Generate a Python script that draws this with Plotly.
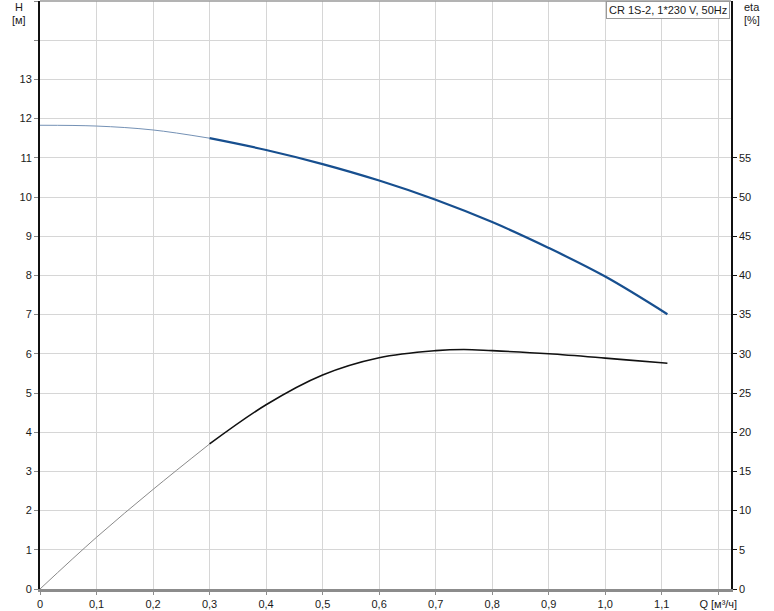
import plotly.graph_objects as go

# Data
q_h = [0.0, 0.1, 0.2, 0.3, 0.4, 0.5, 0.6, 0.7, 0.8, 0.9, 1.0, 1.11]
h_vals = [11.83, 11.81, 11.71, 11.50, 11.20, 10.84, 10.42, 9.93, 9.36, 8.70, 7.97, 7.01]

q_eta = [0.0, 0.1, 0.2, 0.3, 0.4, 0.5, 0.6, 0.7, 0.75, 0.8, 0.9, 1.0, 1.1, 1.11]
eta_vals = [0.0, 6.6, 12.7, 18.5, 23.5, 27.3, 29.5, 30.4, 30.55, 30.4, 30.0, 29.45, 28.85, 28.8]

x_ticks = [0, 0.1, 0.2, 0.3, 0.4, 0.5, 0.6, 0.7, 0.8, 0.9, 1.0, 1.1, 1.2]
x_ticktext = ["0", "0,1", "0,2", "0,3", "0,4", "0,5", "0,6", "0,7", "0,8", "0,9", "1,0", "1,1", "Q [м³/ч]"]
h_ticks = list(range(0, 14))
eta_ticks = list(range(0, 60, 5))
split_q = 0.3
title_text = "CR 1S-2, 1*230 V, 50Hz"

def part(qs, vs, lo, hi):
    xs, ys = [], []
    for q, v in zip(qs, vs):
        if lo - 1e-9 <= q <= hi + 1e-9:
            xs.append(q); ys.append(v)
    return xs, ys

fig = go.Figure()

# H curve: thin part then thick part
x1, y1 = part(q_h, h_vals, 0, split_q)
x2, y2 = part(q_h, h_vals, split_q, 2)
fig.add_trace(go.Scatter(x=x1, y=y1, mode="lines", line=dict(color="#7491b5", width=1, shape="spline"), yaxis="y", showlegend=False, hoverinfo="skip"))
fig.add_trace(go.Scatter(x=x2, y=y2, mode="lines", line=dict(color="#174f8f", width=2.2, shape="spline"), yaxis="y", showlegend=False))

# eta curve
x3, y3 = part(q_eta, eta_vals, 0, split_q)
x4, y4 = part(q_eta, eta_vals, split_q, 2)
fig.add_trace(go.Scatter(x=x3, y=y3, mode="lines", line=dict(color="#8a8a8a", width=1, shape="spline"), yaxis="y2", showlegend=False, hoverinfo="skip"))
fig.add_trace(go.Scatter(x=x4, y=y4, mode="lines", line=dict(color="#111111", width=1.6, shape="spline"), yaxis="y2", showlegend=False))

font = dict(family="Liberation Sans, Arial, sans-serif", size=11, color="#1a1a1a")

fig.update_layout(
    width=774, height=611,
    margin=dict(l=40, r=43, t=1, b=19),
    paper_bgcolor="white", plot_bgcolor="white",
    font=font,
    xaxis=dict(range=[0, 1.2225], tickvals=x_ticks, ticktext=x_ticktext,
               showgrid=True, gridcolor="#d6d6d6", gridwidth=1,
               showline=True, linecolor="#8c8c8c", linewidth=3,
               ticks="outside", ticklen=3, tickcolor="#8c8c8c",
               zeroline=False, mirror=False, tickfont=font),
    yaxis=dict(range=[0, 15], tickvals=list(range(0, 16)),
               ticktext=[str(v) if v in h_ticks else "" for v in range(0, 16)],
               showgrid=True, gridcolor="#d6d6d6", gridwidth=1,
               showline=True, linecolor="#111111", linewidth=2,
               ticks="outside", ticklen=4, tickcolor="#888888",
               zeroline=False, tickfont=font),
    yaxis2=dict(range=[0, 75], overlaying="y", side="right",
                tickvals=eta_ticks, ticktext=[str(v) for v in eta_ticks],
                showgrid=False, showline=True, linecolor="#111111", linewidth=1.5,
                ticks="outside", ticklen=4, tickcolor="#111111",
                zeroline=False, tickfont=font),
)

# top border of the plot area
fig.add_shape(type="line", xref="paper", yref="paper", x0=0, x1=1, y0=1, y1=1,
              line=dict(color="#9a9a9a", width=1.5))

afont = dict(family=font["family"], size=11, color="#1a1a1a")
# axis titles
fig.add_annotation(text="H", xref="paper", yref="paper", x=-0.031, y=1.0, xanchor="center", yanchor="top",
                   showarrow=False, font=afont, yshift=2)
fig.add_annotation(text="[м]", xref="paper", yref="paper", x=-0.031, y=0.982, xanchor="center", yanchor="top",
                   showarrow=False, font=afont)
fig.add_annotation(text="eta", xref="paper", yref="paper", x=1.03, y=1.0, xanchor="center", yanchor="top",
                   showarrow=False, font=afont, yshift=2)
fig.add_annotation(text="[%]", xref="paper", yref="paper", x=1.03, y=0.982, xanchor="center", yanchor="top",
                   showarrow=False, font=afont)

# title box
fig.add_annotation(text=title_text, xref="paper", yref="paper", x=1.0, y=1.0, xanchor="right", yanchor="top",
                   showarrow=False, bgcolor="white", bordercolor="#9a9a9a", borderwidth=1, borderpad=2,
                   font=afont, xshift=-1)

fig.write_html("out.html", config={"displayModeBar": False},
               post_script="document.body.style.margin='0';document.body.style.overflow='hidden';")
